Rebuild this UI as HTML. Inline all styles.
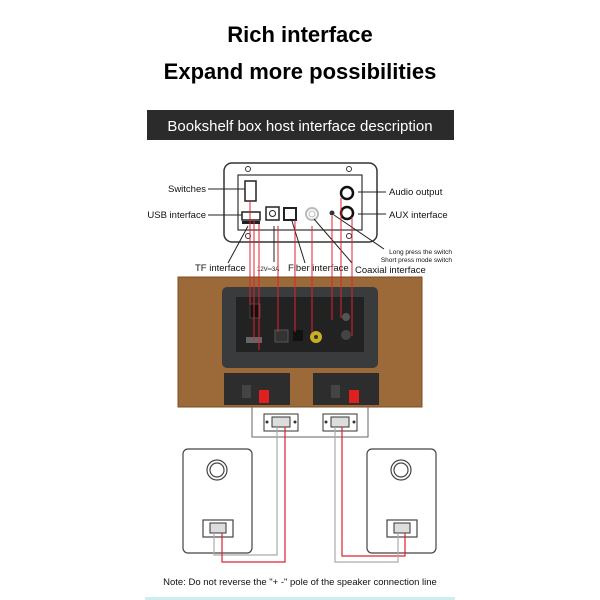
<!DOCTYPE html>
<html><head><meta charset="utf-8"><style>
body{margin:0;background:#fff;}
svg{display:block;font-family:"Liberation Sans",sans-serif;}
</style></head><body>
<svg width="600" height="600" viewBox="0 0 600 600" xmlns="http://www.w3.org/2000/svg">
<rect width="600" height="600" fill="#fff"/>
<text x="300" y="42" text-anchor="middle" font-size="22" font-weight="bold" fill="#000">Rich interface</text>
<text x="300" y="79" text-anchor="middle" font-size="22" font-weight="bold" fill="#000">Expand more possibilities</text>
<rect x="147" y="110" width="307" height="30" fill="#2b2b2b"/>
<text x="300" y="131" text-anchor="middle" font-size="15" fill="#fff">Bookshelf box host interface description</text>

<!-- top panel -->
<rect x="224" y="163" width="153" height="79" rx="8" fill="#fff" stroke="#333" stroke-width="1.5"/>
<rect x="238" y="175" width="124" height="55" fill="none" stroke="#333" stroke-width="1.2"/>
<g fill="none" stroke="#333"><circle cx="248" cy="169" r="2.5"/><circle cx="349" cy="169" r="2.5"/><circle cx="248" cy="236" r="2.5"/><circle cx="349" cy="236" r="2.5"/></g>
<rect x="245" y="181" width="11" height="20" fill="#fff" stroke="#222" stroke-width="1.5"/>
<rect x="242" y="212" width="18" height="8" fill="#fff" stroke="#222" stroke-width="1.5"/>
<rect x="242" y="221" width="18" height="3" fill="#222"/>
<rect x="266" y="207" width="13" height="13" fill="#fff" stroke="#222" stroke-width="1.5"/>
<circle cx="272.5" cy="213.5" r="3" fill="none" stroke="#222"/>
<rect x="284" y="208" width="12" height="12" fill="#fff" stroke="#222" stroke-width="2"/>
<circle cx="312" cy="214" r="6" fill="none" stroke="#bbb" stroke-width="2"/><circle cx="312" cy="214" r="3" fill="none" stroke="#bbb"/>
<circle cx="332" cy="213" r="2.5" fill="#333"/>
<circle cx="347" cy="193" r="6" fill="none" stroke="#111" stroke-width="2.5"/>
<circle cx="347" cy="213" r="6" fill="none" stroke="#111" stroke-width="2.5"/>
<g stroke="#222" stroke-width="1">
<line x1="208" y1="189" x2="245" y2="189"/>
<line x1="208" y1="215" x2="242" y2="215"/>
<line x1="358" y1="192" x2="386" y2="192"/>
<line x1="358" y1="214" x2="386" y2="214"/>
<line x1="248" y1="226" x2="228" y2="263"/>
<line x1="292" y1="221" x2="305" y2="263"/>
<line x1="314" y1="219" x2="352" y2="263"/>
<line x1="334" y1="215" x2="384" y2="249"/>
<line x1="274" y1="226" x2="274" y2="262"/>
</g>
<g font-size="9.5" fill="#111">
<text x="206" y="192" text-anchor="end">Switches</text>
<text x="206" y="218" text-anchor="end">USB interface</text>
<text x="389" y="195">Audio output</text>
<text x="389" y="218">AUX interface</text>
<text x="195" y="271">TF interface</text>
<text x="288" y="271">Fiber interface</text>
<text x="355" y="273">Coaxial interface</text>
<text x="257" y="271" font-size="6">12V═3A</text>
</g>
<text x="452" y="254" text-anchor="end" font-size="6.5" fill="#111">Long press the switch</text>
<text x="452" y="262" text-anchor="end" font-size="6.5" fill="#111">Short press mode switch</text>

<!-- wood box -->
<rect x="178" y="277" width="244" height="130" fill="#9b6a38"/>
<rect x="178" y="277" width="244" height="130" fill="none" stroke="#7a4e25" stroke-width="1"/>
<rect x="222" y="287" width="156" height="81" rx="5" fill="#3a3b3d"/>
<rect x="236" y="297" width="128" height="55" fill="#222"/>
<rect x="250" y="304" width="10" height="14" fill="#111" stroke="#444"/>
<rect x="246" y="337" width="16" height="6" fill="#666"/>
<rect x="275" y="330" width="13" height="12" fill="#333" stroke="#555"/>
<rect x="293" y="330" width="10" height="11" fill="#111"/>
<circle cx="316" cy="337" r="6" fill="#c8b020"/><circle cx="316" cy="337" r="2" fill="#333"/>
<circle cx="346" cy="317" r="4" fill="#555"/><circle cx="346" cy="335" r="5" fill="#444"/>
<rect x="224" y="373" width="66" height="32" fill="#2d2d2d"/>
<rect x="313" y="373" width="66" height="32" fill="#2d2d2d"/>
<rect x="259" y="390" width="10" height="13" fill="#e02020"/>
<rect x="349" y="390" width="10" height="13" fill="#e02020"/>
<rect x="242" y="385" width="9" height="13" fill="#444"/>
<rect x="331" y="385" width="9" height="13" fill="#444"/>
<g stroke="#e02030" stroke-width="1">
<line x1="250" y1="201" x2="250" y2="305"/>
<line x1="254" y1="220" x2="254" y2="340"/>
<line x1="259" y1="224" x2="259" y2="350"/>
<line x1="278" y1="226" x2="278" y2="332"/>
<line x1="295" y1="220" x2="295" y2="332"/>
<line x1="312" y1="226" x2="312" y2="333"/>
<line x1="332" y1="216" x2="332" y2="320"/>
<line x1="341" y1="198" x2="341" y2="318"/>
<line x1="352" y1="217" x2="352" y2="336"/>
</g>

<g stroke="#666" fill="none" stroke-width="1">
<polyline points="252,407 252,437 368,437 368,407"/>
</g>
<g>
<rect x="264" y="414" width="34" height="17" fill="#fff" stroke="#333"/>
<rect x="272" y="417" width="18" height="10" fill="#ddd" stroke="#333"/>
<rect x="323" y="414" width="34" height="17" fill="#fff" stroke="#333"/>
<rect x="331" y="417" width="18" height="10" fill="#ddd" stroke="#333"/>
<circle cx="267" cy="422" r="1.5" fill="#333"/><circle cx="295" cy="422" r="1.5" fill="#333"/>
<circle cx="326" cy="422" r="1.5" fill="#333"/><circle cx="354" cy="422" r="1.5" fill="#333"/>
</g>
<g fill="#fff" stroke="#444" stroke-width="1.2">
<rect x="183" y="449" width="69" height="104" rx="5"/>
<rect x="367" y="449" width="69" height="104" rx="5"/>
<circle cx="217" cy="470" r="10"/><circle cx="217" cy="470" r="7"/>
<circle cx="401" cy="470" r="10"/><circle cx="401" cy="470" r="7"/>
<rect x="203" y="520" width="30" height="17"/>
<rect x="387" y="520" width="30" height="17"/>
</g>
<rect x="210" y="523" width="16" height="10" fill="#ddd" stroke="#333"/>
<rect x="394" y="523" width="16" height="10" fill="#ddd" stroke="#333"/>
<g fill="none" stroke-width="1.2">
<polyline stroke="#aaa" points="214,533 214,555 277,555 277,427"/>
<polyline stroke="#e02030" points="222,533 222,562 285,562 285,427"/>
<polyline stroke="#e02030" points="342,427 342,556 405,556 405,533"/>
<polyline stroke="#aaa" points="335,427 335,562 398,562 398,533"/>
</g>
<text x="300" y="585" text-anchor="middle" font-size="9.5" fill="#111">Note: Do not reverse the "+ -" pole of the speaker connection line</text>
<rect x="145" y="597" width="310" height="3" fill="#cdeef0"/>
</svg>
</body></html>
